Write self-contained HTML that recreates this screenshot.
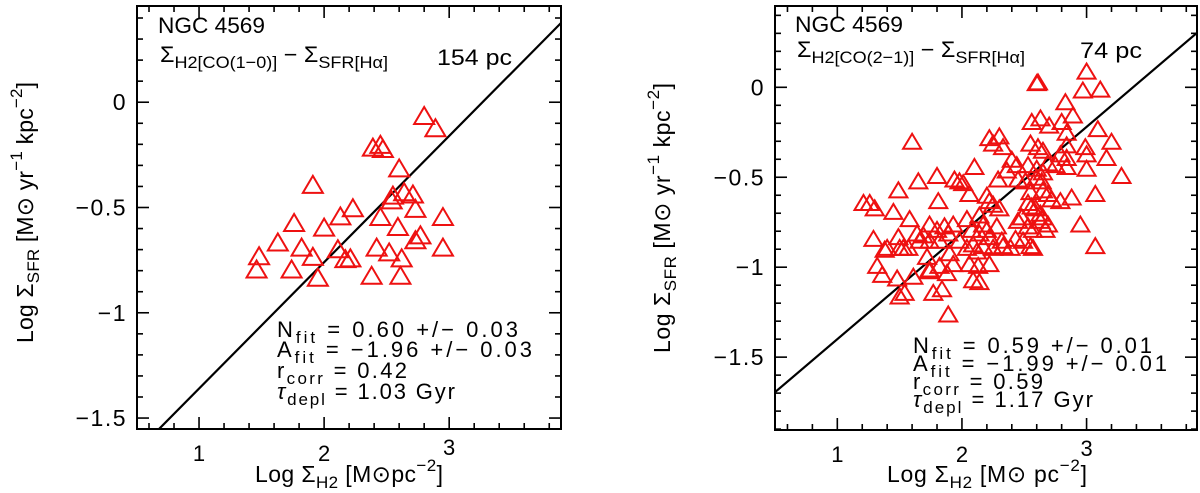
<!DOCTYPE html>
<html><head><meta charset="utf-8">
<style>
html,body{margin:0;padding:0;background:#fff;}
svg{display:block;font-family:"Liberation Sans",sans-serif;}
</style></head>
<body>
<svg id="fig" width="1200" height="493" viewBox="0 0 1200 493" xmlns="http://www.w3.org/2000/svg" style="position:absolute;left:0;top:0"></svg>
<script>
// Panel A data (CO(1-0), 154 pc)
const leftX = [2.80,2.89,2.39,2.45,2.47,2.60,1.91,2.55,2.64,2.71,2.54,2.73,2.23,2.13,2.45,2.95,1.76,2.00,2.59,1.63,1.82,2.11,2.77,2.73,2.42,2.52,2.95,1.48,1.91,2.17,2.21,2.62,1.46,1.74,1.95,2.38,2.61];
const leftY = [-0.063,-0.121,-0.213,-0.200,-0.220,-0.312,-0.390,-0.441,-0.425,-0.436,-0.464,-0.504,-0.501,-0.540,-0.543,-0.543,-0.571,-0.593,-0.590,-0.664,-0.688,-0.696,-0.630,-0.653,-0.688,-0.711,-0.688,-0.729,-0.732,-0.743,-0.739,-0.739,-0.792,-0.792,-0.831,-0.822,-0.822];
const leftFit = [0.60,-1.96];
// Panel B data (CO(2-1), 74 pc)
const rightX = [3.00,2.61,2.60,2.97,3.11,2.83,2.89,2.56,2.63,2.70,2.80,3.09,2.84,1.60,2.22,2.30,2.25,2.33,2.55,2.61,2.65,2.84,2.99,3.20,3.00,3.16,2.79,2.84,2.69,2.75,2.84,2.40,2.44,2.36,2.53,2.60,2.65,3.00,3.28,2.10,1.80,1.94,1.98,2.01,2.29,2.45,2.51,2.60,2.64,1.65,1.49,2.06,2.55,2.65,2.69,2.72,2.79,2.88,3.07,1.21,1.26,1.30,1.45,1.81,2.20,2.22,2.25,2.30,2.53,2.56,2.59,2.63,2.65,1.58,1.74,1.80,1.69,1.64,1.86,1.93,2.04,2.14,2.08,2.17,2.20,2.28,2.45,2.48,2.53,2.57,2.63,2.69,2.95,1.29,1.49,1.40,1.53,1.57,1.66,1.74,1.82,1.89,1.98,2.09,2.14,2.22,2.32,2.39,2.43,2.49,2.55,2.57,2.67,3.07,1.38,1.50,1.72,1.90,2.04,2.12,2.17,2.25,2.33,1.32,1.82,1.93,2.06,2.13,2.22,1.36,1.48,1.61,1.74,1.88,2.09,2.14,1.74,1.50,1.54,1.77,1.84,1.89];
const rightY = [0.09,0.03,0.026,-0.015,-0.01,-0.08,-0.154,-0.19,-0.17,-0.21,-0.19,-0.23,-0.25,-0.30,-0.28,-0.27,-0.31,-0.33,-0.31,-0.33,-0.35,-0.32,-0.33,-0.30,-0.37,-0.39,-0.37,-0.39,-0.42,-0.43,-0.44,-0.40,-0.43,-0.46,-0.43,-0.45,-0.47,-0.45,-0.49,-0.44,-0.49,-0.51,-0.52,-0.53,-0.51,-0.51,-0.52,-0.50,-0.52,-0.52,-0.57,-0.59,-0.58,-0.57,-0.59,-0.62,-0.63,-0.61,-0.59,-0.64,-0.64,-0.67,-0.69,-0.63,-0.60,-0.63,-0.65,-0.67,-0.64,-0.66,-0.67,-0.70,-0.72,-0.73,-0.76,-0.79,-0.82,-0.81,-0.77,-0.76,-0.73,-0.71,-0.79,-0.76,-0.79,-0.77,-0.74,-0.72,-0.77,-0.79,-0.74,-0.76,-0.76,-0.84,-0.83,-0.89,-0.89,-0.89,-0.85,-0.85,-0.85,-0.81,-0.85,-0.87,-0.81,-0.83,-0.85,-0.89,-0.84,-0.85,-0.88,-0.89,-0.79,-0.88,-0.90,-0.89,-0.94,-0.92,-0.89,-0.91,-0.88,-0.89,-0.88,-0.99,-0.99,-0.98,-0.98,-0.99,-0.98,-1.04,-1.06,-1.05,-1.02,-1.03,-1.07,-1.08,-1.01,-1.16,-1.14,-1.14,-1.12,-1.26];
const rightFit = [0.59,-1.99];
const xTickLabels = ["1","2","3"];
const yTickLabels = ["0","−0.5","−1","−1.5"];

const NS="http://www.w3.org/2000/svg";
const svg=document.getElementById('fig');
function mk(tag,attrs,parent){const e=document.createElementNS(NS,tag);for(const k in attrs)e.setAttribute(k,attrs[k]);(parent||svg).appendChild(e);return e;}

function panel(cfg){
  const g=mk('g',{});
  
  
  const L=cfg.L,R=cfg.R,T=cfg.T,B=cfg.B;
  const sx=v=>L+(v-cfg.x0)/(cfg.x1-cfg.x0)*(R-L);
  const sy=v=>T+(cfg.y1-v)/(cfg.y1-cfg.y0)*(B-T);
  const tg=mk('g',{stroke:'#000','stroke-width':1.6},g);
  
  
  for(let i=Math.ceil(cfg.x0*5);i<=Math.floor(cfg.x1*5);i++){
    const v=i/5,x=sx(v),len=(i%5===0)?12:6;
    mk('line',{x1:x,y1:B,x2:x,y2:B-len},tg);
    mk('line',{x1:x,y1:T,x2:x,y2:T+len},tg);
  }
  for(let i=Math.ceil(cfg.y0*10);i<=Math.floor(cfg.y1*10);i++){
    const v=i/10,y=sy(v),len=(i%5===0)?12:6;
    mk('line',{x1:L,y1:y,x2:L+len,y2:y},tg);
    mk('line',{x1:R,y1:y,x2:R-len,y2:y},tg);
  }
  xTickLabels.forEach(s=>{
    const v=parseFloat(s);
    const t=mk('text',{x:sx(v),y:B+32+(v===3?-6:0),'text-anchor':'middle','font-size':22},g);
    t.textContent=s;
    
    
  });
  yTickLabels.forEach(s=>{
    const v=parseFloat(s.replace('−','-'));
    const t=mk('text',{x:L-10,y:sy(v)+8,'text-anchor':'end','font-size':23,'letter-spacing':1.5},g);
    t.textContent=s;
    
    
  });
  const cid='clip'+cfg.name;
  const cp=mk('clipPath',{id:cid},g);mk('rect',{x:L,y:T,width:R-L,height:B-T},cp);
  const fl=mk('line',{x1:sx(cfg.x0),y1:sy(cfg.fit[0]*cfg.x0+cfg.fit[1]),x2:sx(cfg.x1),y2:sy(cfg.fit[0]*cfg.x1+cfg.fit[1]),stroke:'#000','stroke-width':2.2,'clip-path':'url(#'+cid+')'},g);
  
  
  const pg=mk('g',{fill:'none',stroke:'#ee1111','stroke-width':2,'clip-path':'url(#'+cid+')'},g);
  
  
  const w=cfg.tw/2,h=cfg.th/2;
  cfg.xs.forEach((xv,i)=>{
    const cx=sx(xv),cy=sy(cfg.ys[i]);
    const p=mk('polygon',{points:`${cx-w},${cy+h} ${cx+w},${cy+h} ${cx},${cy-h}`},pg);
    
    
  });
  const fr=mk('rect',{x:L,y:T,width:R-L,height:B-T,fill:'none',stroke:'#000','stroke-width':2},g);
  
  
}

panel({name:'panel-left',L:137,R:561,T:6,B:429,x0:0.504,x1:3.894,y0:-1.552,y1:0.457,xs:leftX,ys:leftY,fit:leftFit,tw:20,th:17});
panel({name:'panel-right',L:775,R:1197,T:6,B:430,x0:0.50,x1:3.886,y0:-1.905,y1:0.452,xs:rightX,ys:rightY,fit:rightFit,tw:18,th:15});
</script>
<svg style="position:absolute;left:0;top:0" width="1200" height="493" font-family="Liberation Sans, sans-serif">
  <g font-size="22" fill="#000">
    <text x="158" y="33" textLength="107" lengthAdjust="spacingAndGlyphs">NGC 4569</text>
    <text x="160" y="62" textLength="228" lengthAdjust="spacingAndGlyphs">Σ<tspan font-size="17" dy="6">H2[CO(1−0)]</tspan><tspan dy="-6"> − Σ</tspan><tspan font-size="17" dy="6">SFR[Hα]</tspan></text>
    <text x="437" y="65" textLength="75" lengthAdjust="spacingAndGlyphs">154 pc</text>
    <g>
      <text x="277" y="337" textLength="241" lengthAdjust="spacing">N<tspan font-size="17" dy="6">fit</tspan><tspan dy="-6"> = 0.60 +/− 0.03</tspan></text>
      <text x="277" y="357" textLength="255" lengthAdjust="spacing">A<tspan font-size="17" dy="6">fit</tspan><tspan dy="-6"> = −1.96 +/− 0.03</tspan></text>
      <text x="277" y="378" textLength="130" lengthAdjust="spacing">r<tspan font-size="17" dy="6">corr</tspan><tspan dy="-6"> = 0.42</tspan></text>
      <text x="277" y="399" textLength="178" lengthAdjust="spacing"><tspan font-style="italic">τ</tspan><tspan font-size="17" dy="6">depl</tspan><tspan dy="-6"> = 1.03 Gyr</tspan></text>
    </g>
    <text x="795" y="32" textLength="108" lengthAdjust="spacingAndGlyphs">NGC 4569</text>
    <text x="797" y="57" textLength="228" lengthAdjust="spacingAndGlyphs">Σ<tspan font-size="17" dy="6">H2[CO(2−1)]</tspan><tspan dy="-6"> − Σ</tspan><tspan font-size="17" dy="6">SFR[Hα]</tspan></text>
    <text x="1080" y="58" textLength="62" lengthAdjust="spacingAndGlyphs">74 pc</text>
    <g>
      <text x="913" y="353" textLength="239" lengthAdjust="spacing">N<tspan font-size="17" dy="6">fit</tspan><tspan dy="-6"> = 0.59 +/− 0.01</tspan></text>
      <text x="913" y="371" textLength="254" lengthAdjust="spacing">A<tspan font-size="17" dy="6">fit</tspan><tspan dy="-6"> = −1.99 +/− 0.01</tspan></text>
      <text x="913" y="389" textLength="130" lengthAdjust="spacing">r<tspan font-size="17" dy="6">corr</tspan><tspan dy="-6"> = 0.59</tspan></text>
      <text x="913" y="407" textLength="180" lengthAdjust="spacing"><tspan font-style="italic">τ</tspan><tspan font-size="17" dy="6">depl</tspan><tspan dy="-6"> = 1.17 Gyr</tspan></text>
    </g>
  </g>
  <g font-size="23" fill="#000">
    <text x="255" y="482" textLength="188" lengthAdjust="spacing">Log Σ<tspan font-size="17" dy="6">H2</tspan><tspan dy="-6"> [M</tspan><tspan>⊙</tspan><tspan>pc</tspan><tspan font-size="17" dy="-11">−2</tspan><tspan dy="11">]</tspan></text>
    <text x="887" y="482" textLength="200" lengthAdjust="spacing">Log Σ<tspan font-size="17" dy="6">H2</tspan><tspan dy="-6"> [M</tspan><tspan>⊙ pc</tspan><tspan font-size="17" dy="-11">−2</tspan><tspan dy="11">]</tspan></text>
    <text transform="translate(33,343) rotate(-90)" textLength="261" lengthAdjust="spacing">Log Σ<tspan font-size="17" dy="6">SFR</tspan><tspan dy="-6"> [M</tspan><tspan>⊙ yr</tspan><tspan font-size="17" dy="-11">−1</tspan><tspan dy="11"> kpc</tspan><tspan font-size="17" dy="-11">−2</tspan><tspan dy="11">]</tspan></text>
    <text transform="translate(670,353) rotate(-90)" textLength="270" lengthAdjust="spacing">Log Σ<tspan font-size="17" dy="6">SFR</tspan><tspan dy="-6"> [M</tspan><tspan>⊙ yr</tspan><tspan font-size="17" dy="-11">−1</tspan><tspan dy="11"> kpc</tspan><tspan font-size="17" dy="-11">−2</tspan><tspan dy="11">]</tspan></text>
  </g>
</svg>
</body></html>
